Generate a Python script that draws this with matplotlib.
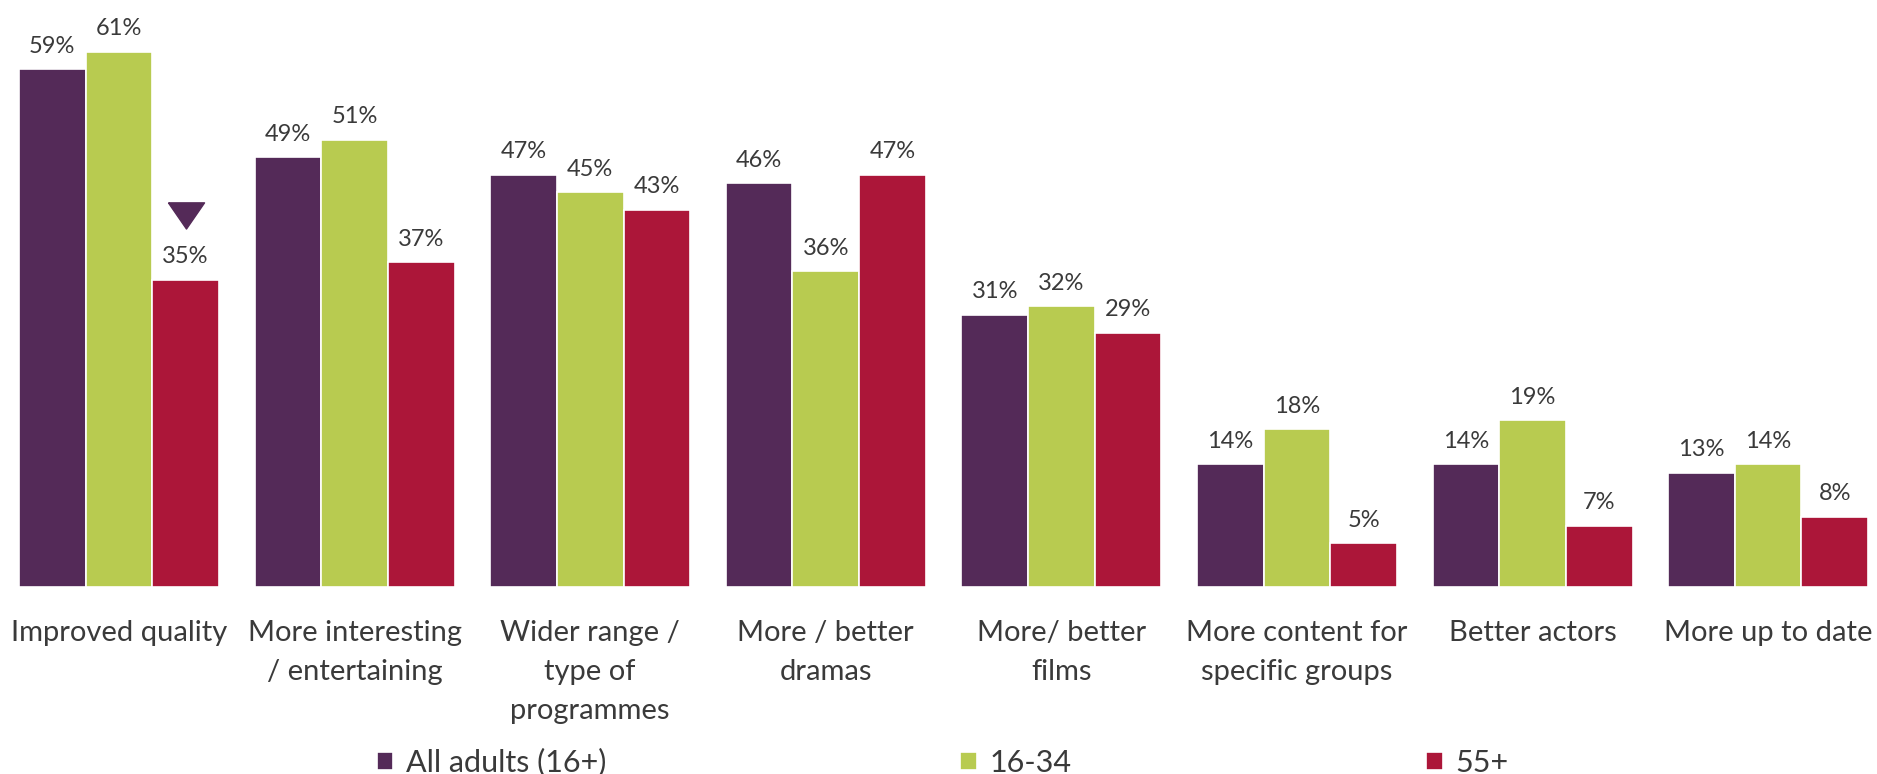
import matplotlib
matplotlib.use("Agg")
import matplotlib.pyplot as plt
import matplotlib.transforms as mtransforms
import numpy as np

plt.rcParams['font.family'] = ['Lato', 'DejaVu Sans']

categories = ["Improved quality", "More interesting\n/ entertaining", "Wider range /\ntype of\nprogrammes",
              "More / better\ndramas", "More/ better\nfilms", "More content for\nspecific groups",
              "Better actors", "More up to date"]
all_adults = [59, 49, 47, 46, 31, 14, 14, 13]
age_16_34 = [61, 51, 45, 36, 32, 18, 19, 14]
age_55 = [35, 37, 43, 47, 29, 5, 7, 8]
series_names = ["All adults (16+)", "16-34", "55+"]
colors = ["#542A58", "#B8CB50", "#AC1639"]
# bars flagged as significantly lower than all adults: (category index, series index)
flagged = [(0, 2)]

fig = plt.figure(figsize=(18.77, 7.74), dpi=100)
ax = fig.add_axes([0, 0.2416, 1, 0.7584])

x = np.arange(len(categories))
w = 0.283
text_col = "#3A3A3A"
series = [all_adults, age_16_34, age_55]
handles = []
for i, (vals, col, name) in enumerate(zip(series, colors, series_names)):
    pos = x + (i - 1) * w
    bars = ax.bar(pos, vals, width=w, color=col, edgecolor="white", linewidth=1.2, label=name)
    handles.append(bars)
    for p, v in zip(pos, vals):
        ax.annotate(f"{v}%", (p, v), xytext=(0, 9), textcoords="offset points",
                    ha="center", va="bottom", fontsize=17, color=text_col)

# down-pointing marker above flagged bars
tri = [(-1, 0.7), (1, 0.7), (0, -0.75), (-1, 0.7)]
for ci, si in flagged:
    px = x[ci] + (si - 1) * w
    tr = mtransforms.offset_copy(ax.transData, fig=fig, x=0, y=47, units="points")
    ax.plot(px, series[si][ci], marker=tri, markersize=26, color=colors[0], transform=tr, clip_on=False)

ax.set_xlim(-0.505, 7.462)
ax.set_ylim(0, 66.9)
ax.set_xticks(x)
ax.set_xticklabels(categories, fontsize=21, color=text_col, linespacing=1.6, va="top")
ax.tick_params(axis="x", length=0, pad=24)
ax.set_yticks([])
for s in ax.spines.values():
    s.set_visible(False)

leg = fig.legend(handles=handles, loc="center", bbox_to_anchor=(0.502, 0.015), ncol=3, frameon=False,
                 fontsize=22, handlelength=0.55, handleheight=0.55, handletextpad=0.4,
                 columnspacing=11.6, labelcolor=text_col)

fig.savefig("out.png", dpi=100)
